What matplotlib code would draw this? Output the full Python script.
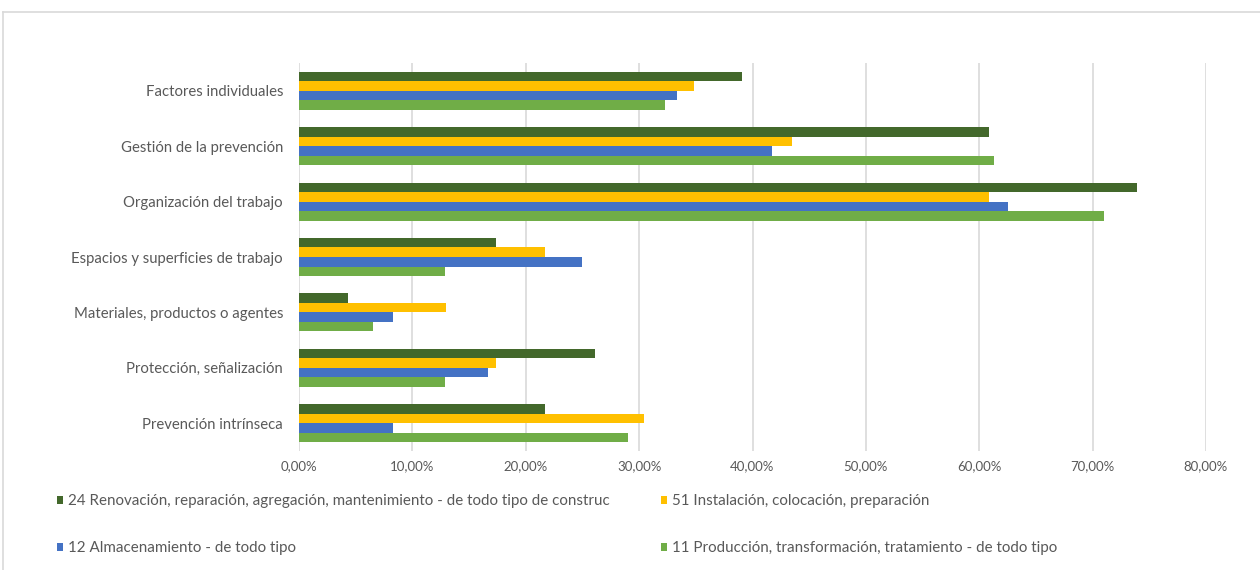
import matplotlib
matplotlib.use("Agg")
import matplotlib.pyplot as plt
from matplotlib.patches import Patch
from matplotlib.lines import Line2D
from matplotlib.ticker import FuncFormatter, MultipleLocator
import numpy as np

plt.rcParams['font.family'] = ['Lato', 'DejaVu Sans']

categorias = ["Factores individuales",
              "Gestión de la prevención",
              "Organización del trabajo",
              "Espacios y superficies de trabajo",
              "Materiales, productos o agentes",
              "Protección, señalización",
              "Prevención intrínseca"]

# porcentajes por grupo de actividad
renovacion_24 = [39.1, 60.9, 73.9, 17.4, 4.3, 26.1, 21.7]
instalacion_51 = [34.8, 43.5, 60.9, 21.7, 13.0, 17.4, 30.4]
almacenamiento_12 = [33.3, 41.7, 62.5, 25.0, 8.3, 16.7, 8.3]
produccion_11 = [32.3, 61.3, 71.0, 12.9, 6.5, 12.9, 29.0]

series = [
    ("24 Renovación, reparación, agregación, mantenimiento - de todo tipo de construc", renovacion_24, '#43682B'),
    ("51 Instalación, colocación, preparación", instalacion_51, '#FFC000'),
    ("12 Almacenamiento - de todo tipo", almacenamiento_12, '#4472C4'),
    ("11 Producción, transformación, tratamiento - de todo tipo", produccion_11, '#70AD47'),
]

gris = '#595959'
fig = plt.figure(figsize=(12.6, 5.7), dpi=100)
ax = fig.add_axes([299/1260, 1-450.7/570, 907/1260, 387.4/570])

y = np.arange(len(categorias))
h = 0.172
for i, (nombre, vals, color) in enumerate(series):
    ax.barh(y + (i - 1.5) * h, np.array(vals) / 100, height=h,
            color=color, zorder=3)

ax.set_ylim(len(categorias) - 0.5, -0.5)
ax.set_xlim(0, 0.8)
ax.xaxis.set_major_locator(MultipleLocator(0.1))
ax.xaxis.set_major_formatter(FuncFormatter(lambda v, p: ('%.2f%%' % (v*100)).replace('.', ',')))
ax.set_yticks(y)
ax.set_yticklabels(categorias)
ax.tick_params(axis='y', length=0, pad=11.5, labelsize=10.7, labelcolor=gris)
ax.tick_params(axis='x', length=0, pad=7, labelsize=9.5, labelcolor=gris)
ax.grid(axis='x', color='#d9d9d9', linewidth=1.2, zorder=0)
for s in ax.spines.values():
    s.set_visible(False)

# marco del grafico
fig.add_artist(Line2D([3/1260, 3/1260], [0, 1-12/570], color='#d9d9d9', lw=1.2))
fig.add_artist(Line2D([3/1260, 1], [1-12/570, 1-12/570], color='#d9d9d9', lw=1.2))

orden = [0, 2, 1, 3]
handles = [Patch(facecolor=series[k][2]) for k in orden]
labels = [series[k][0] for k in orden]
leg = fig.legend(handles, labels, ncol=2, loc='upper left',
                 bbox_to_anchor=(57/1260, 1-494/570), frameon=False,
                 fontsize=10.9, handlelength=0.42, handleheight=0.42,
                 handletextpad=0.3, labelspacing=2.2, columnspacing=3.4,
                 borderaxespad=0, borderpad=0)
for t in leg.get_texts():
    t.set_color(gris)

fig.savefig("out.png", dpi=100)
